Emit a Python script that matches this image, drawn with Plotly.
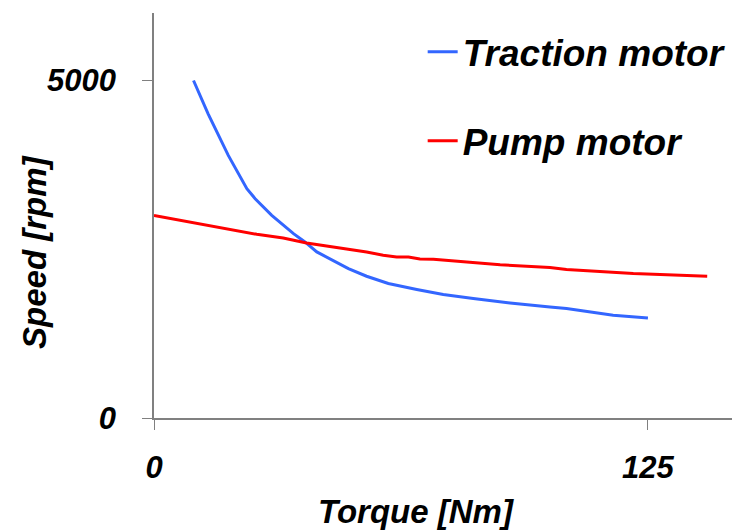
import plotly.graph_objects as go

# Traction motor (blue)
traction_torque = [10, 13.7, 18.8, 23.5, 25.6, 29.8, 35.3, 38.2, 41.2, 45.4, 49.2, 53.8,
                   59.3, 66.5, 73.2, 80.8, 90.1, 100.2, 104.4, 116.2, 125]
traction_speed = [5000, 4506, 3890, 3397, 3249, 3003, 2732, 2608, 2460, 2337, 2214, 2100,
                  1992, 1903, 1829, 1770, 1705, 1646, 1622, 1523, 1480]

# Pump motor (red)
pump_torque = [0, 9.9, 17.5, 26, 32.7, 38.6, 46.2, 53.8, 58, 61.4, 64.4, 67.3, 70.7,
               79.1, 87.6, 100.2, 104.4, 121.3, 140]
pump_speed = [3002, 2894, 2805, 2721, 2667, 2593, 2525, 2460, 2411, 2386, 2386, 2357, 2352,
              2312, 2270, 2229, 2199, 2140, 2100]

x_ticks = [0, 125]
y_ticks = [0, 5000]

FONT = "Liberation Sans, Arial, sans-serif"

fig = go.Figure()
fig.add_trace(go.Scatter(x=traction_torque, y=traction_speed, mode="lines",
                         name="Traction motor", legendgroup="a",
                         line=dict(color="#3366FF", width=3)))
fig.add_trace(go.Scatter(x=pump_torque, y=pump_speed, mode="lines",
                         name="Pump motor", legendgroup="b",
                         line=dict(color="#FF0000", width=3)))

tickfont = dict(family=FONT, size=31, color="black", weight="bold", style="italic")

fig.update_layout(
    width=732, height=523,
    margin=dict(l=146, r=0, t=5, b=113),
    paper_bgcolor="white", plot_bgcolor="white",
    showlegend=True,
    legend=dict(x=0.4585, y=0.980, xanchor="left", yanchor="top",
                font=dict(family=FONT, size=37, color="black", weight="bold", style="italic"),
                tracegroupgap=38, bgcolor="rgba(0,0,0,0)"),
    xaxis=dict(range=[0, 148.3], tickvals=x_ticks, ticks="outside", ticklen=10,
               tickcolor="#808080", showline=True, linecolor="#808080", linewidth=1.5,
               showgrid=False, zeroline=False, tickfont=tickfont, ticklabelstandoff=11),
    yaxis=dict(range=[0, 6000], tickvals=y_ticks, ticks="outside", ticklen=10,
               tickcolor="#808080", showline=True, linecolor="#808080", linewidth=1.5,
               showgrid=False, zeroline=False, tickfont=tickfont, ticklabelstandoff=20),
    annotations=[
        dict(text="Torque [Nm]", xref="paper", yref="paper", x=0.447, y=-0.232,
             xanchor="center", yanchor="middle", showarrow=False,
             font=dict(family=FONT, size=33, color="black", weight="bold", style="italic")),
        dict(text="Speed [rpm]", xref="paper", yref="paper", x=-0.203, y=0.41,
             xanchor="center", yanchor="middle", showarrow=False, textangle=-90,
             font=dict(family=FONT, size=33, color="black", weight="bold", style="italic")),
    ],
)

fig.write_html("out.html")
